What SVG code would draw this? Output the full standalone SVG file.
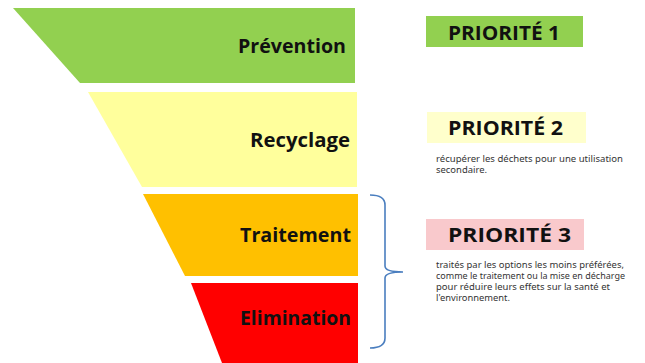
<svg xmlns="http://www.w3.org/2000/svg" width="645" height="363" viewBox="0 0 645 363">
<style>
.lbl{font-family:"Open Sans","Liberation Sans",sans-serif;font-weight:bold;font-size:19px;fill:#111;text-anchor:start}
.pri{font-family:"Open Sans","Liberation Sans",sans-serif;font-weight:bold;font-size:19px;fill:#111}
.desc{font-family:"Noto Sans","Liberation Sans",sans-serif;font-size:8.8px;fill:#333}
</style>
<rect width="645" height="363" fill="#ffffff"/>
<g id="prevention">
<polygon points="13,8 355,8 355,83 80,83" fill="#92d050"/>
<text class="lbl" x="238" y="53" textLength="108" lengthAdjust="spacingAndGlyphs">Prévention</text>
</g>
<g id="recyclage">
<polygon points="88,92 357,92 357,187 142,187" fill="#ffff9c"/>
<text class="lbl" x="250" y="147" textLength="100" lengthAdjust="spacingAndGlyphs">Recyclage</text>
</g>
<g id="traitement">
<polygon points="143,194 358,194 358,276 185,276" fill="#ffc000"/>
<text class="lbl" x="240" y="242" textLength="111" lengthAdjust="spacingAndGlyphs">Traitement</text>
</g>
<g id="elimination">
<polygon points="191,283 358,283 358,363 222,363" fill="#ff0000"/>
<text class="lbl" x="240" y="325" textLength="111" lengthAdjust="spacingAndGlyphs">Elimination</text>
</g>
<g id="connectors">
<path d="M370,195 Q385,195 385,205 L385,266 Q385,272 403,272 Q385,272 385,278 L385,338 Q385,348 370,348" fill="none" stroke="#4a7ebf" stroke-width="1.6"/>
</g>
<g id="priorite1">
<rect x="426" y="16" width="157" height="31" fill="#92d050"/>
<text class="pri" x="448" y="40" textLength="112" lengthAdjust="spacingAndGlyphs">PRIORITÉ 1</text>
</g>
<g id="priorite2">
<rect x="427" y="112" width="159" height="31" fill="#ffffcc"/>
<text class="pri" x="448" y="135" textLength="115" lengthAdjust="spacingAndGlyphs">PRIORITÉ 2</text>
<text class="desc" x="436" y="162" textLength="187" lengthAdjust="spacingAndGlyphs">récupérer les déchets pour une utilisation</text>
<text class="desc" x="436" y="173" textLength="51" lengthAdjust="spacingAndGlyphs">secondaire.</text>
</g>
<g id="priorite3">
<rect x="426" y="219" width="158" height="31" fill="#f9c9cc"/>
<text class="pri" x="448" y="242" textLength="123" lengthAdjust="spacingAndGlyphs">PRIORITÉ 3</text>
<text class="desc" x="436" y="268" textLength="188" lengthAdjust="spacingAndGlyphs">traités par les options les moins préférées,</text>
<text class="desc" x="436" y="279" textLength="189" lengthAdjust="spacingAndGlyphs">comme le traitement ou la mise en décharge</text>
<text class="desc" x="436" y="290" textLength="174" lengthAdjust="spacingAndGlyphs">pour réduire leurs effets sur la santé et</text>
<text class="desc" x="436" y="301" textLength="74" lengthAdjust="spacingAndGlyphs">l'environnement.</text>
</g>
</svg>
